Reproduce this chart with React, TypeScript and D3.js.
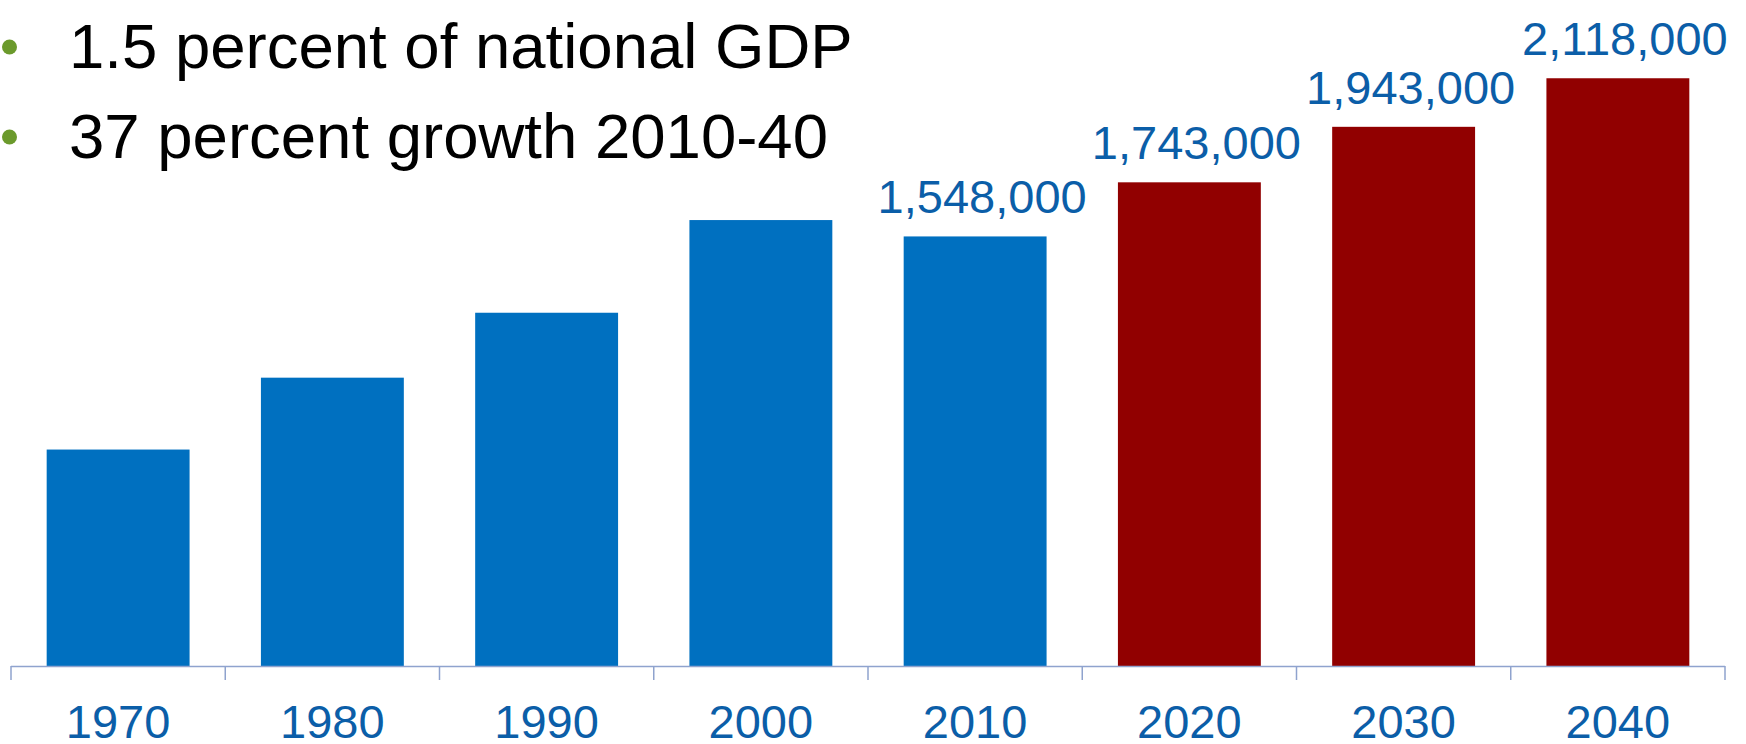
import { useEffect, useRef } from "react";
import * as d3 from "d3";

const years = ["1970", "1980", "1990", "2000", "2010", "2020", "2030", "2040"];
const jobs = [780000, 1039000, 1273000, 1607000, 1548000, 1743000, 1943000, 2118000];
const projected = [false, false, false, false, false, true, true, true];
// only some bars carry a value label
const labelled = [false, false, false, false, true, true, true, true];
const bullets = ["1.5 percent of national GDP", "37 percent growth 2010-40"];

export default function App() {
  const svgRef = useRef<SVGSVGElement>(null);

  useEffect(() => {
    document.body.style.margin = "0";
    if (!svgRef.current) return;

    const width = 1746;
    const height = 744;
    const baseY = 666;
    const font = "'Liberation Sans', Arial, sans-serif";

    const svg = d3.select(svgRef.current);
    svg.selectAll("*").remove();
    svg.attr("width", width).attr("height", height);

    const x = d3
      .scaleBand<string>()
      .domain(years)
      .range([11, 1725])
      .paddingInner(0.333)
      .paddingOuter(0.1665);

    const y = d3.scaleLinear().domain([0, 2400000]).range([baseY, 0]);

    // bars
    svg
      .selectAll("rect.bar")
      .data(years)
      .enter()
      .append("rect")
      .attr("class", "bar")
      .attr("x", (d) => x(d)!)
      .attr("width", x.bandwidth())
      .attr("y", (_, i) => y(jobs[i]))
      .attr("height", (_, i) => baseY - y(jobs[i]))
      .attr("fill", (_, i) => (projected[i] ? "#910000" : "#0070C0"));

    // axis line + ticks at band edges
    const axisColor = "#8FA3CE";
    svg
      .append("line")
      .attr("x1", 11)
      .attr("x2", 1725)
      .attr("y1", baseY + 0.5)
      .attr("y2", baseY + 0.5)
      .attr("stroke", axisColor)
      .attr("stroke-width", 1.5);

    const step = x.step();
    const edges = years.map((d) => x(d)! - (step - x.bandwidth()) / 2);
    edges.push(edges[edges.length - 1] + step);
    svg
      .selectAll("line.tick")
      .data(edges)
      .enter()
      .append("line")
      .attr("class", "tick")
      .attr("x1", (d) => d)
      .attr("x2", (d) => d)
      .attr("y1", baseY)
      .attr("y2", baseY + 14)
      .attr("stroke", axisColor)
      .attr("stroke-width", 1.5);

    // year labels
    svg
      .selectAll("text.year")
      .data(years)
      .enter()
      .append("text")
      .attr("class", "year")
      .attr("x", (d) => x(d)! + x.bandwidth() / 2)
      .attr("y", 738)
      .attr("text-anchor", "middle")
      .attr("font-family", font)
      .attr("font-size", 47)
      .attr("fill", "#0B5EA8")
      .text((d) => d);

    // value labels
    const fmt = d3.format(",");
    svg
      .selectAll("text.value")
      .data(years.filter((_, i) => labelled[i]))
      .enter()
      .append("text")
      .attr("class", "value")
      .attr("x", (d) => x(d)! + x.bandwidth() / 2 + 7)
      .attr("y", (d) => y(jobs[years.indexOf(d)]) - 23)
      .attr("text-anchor", "middle")
      .attr("font-family", font)
      .attr("font-size", 47)
      .attr("fill", "#0B5EA8")
      .text((d) => fmt(jobs[years.indexOf(d)]));

    // bullet points
    const b = svg.append("g");
    bullets.forEach((t, i) => {
      b.append("circle")
        .attr("cx", 9.5)
        .attr("cy", 47 + i * 90)
        .attr("r", 7.5)
        .attr("fill", "#6B9A2C");
      b.append("text")
        .attr("x", 69)
        .attr("y", 68 + i * 90)
        .attr("font-family", font)
        .attr("font-size", 63.5)
        .attr("fill", "#000")
        .text(t);
    });
  }, []);

  return <svg ref={svgRef} style={{ display: "block" }}></svg>;
}
